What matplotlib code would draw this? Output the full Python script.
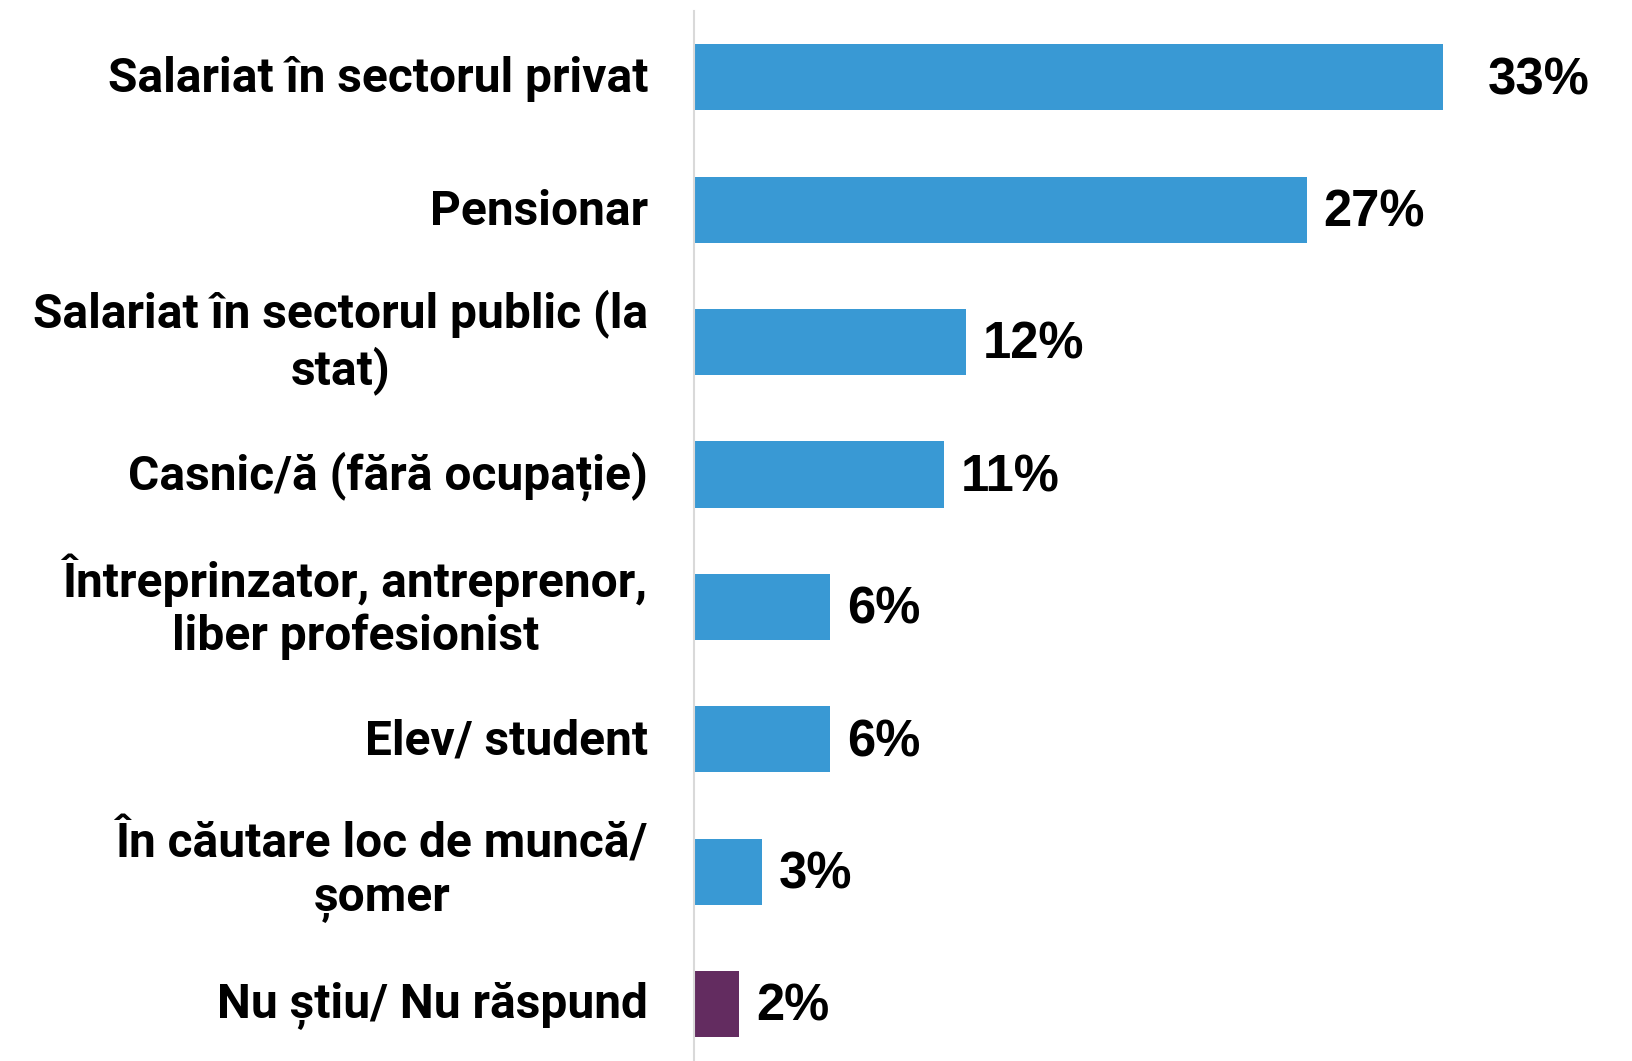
import matplotlib.pyplot as plt

categories = [
    "Salariat în sectorul privat",
    "Pensionar",
    "Salariat în sectorul public (la\nstat)",
    "Casnic/ă (fără ocupație)",
    "Întreprinzator, antreprenor,\nliber profesionist",
    "Elev/ student",
    "În căutare loc de muncă/\nșomer",
    "Nu știu/ Nu răspund",
]
values = [33, 27, 12, 11, 6, 6, 3, 2]
labels = ["33%", "27%", "12%", "11%", "6%", "6%", "3%", "2%"]

BLUE = "#3999d4"
PURPLE = "#632c60"


def main():
    fig = plt.figure(figsize=(16.33, 10.61), dpi=100)
    ax = fig.add_axes([694 / 1633, 0, 1 - 694 / 1633, 1 - 11 / 1061])

    colors = [BLUE] * (len(values) - 1) + [PURPLE]
    ypos = list(range(len(values)))
    ax.barh(ypos, values, height=0.5, color=colors)

    ax.set_xlim(0, 939 / 22.7)
    ax.set_ylim(-0.5 + 1050 / 132.4, -0.5)

    # percentage labels next to each bar
    for y, v, lab in zip(ypos, values, labels):
        pad = 32 if y == 0 else 12
        ax.annotate(lab, (v, y), xytext=(pad, -2.5), textcoords="offset points",
                    ha="left", va="center", fontsize=36.5, fontweight="bold",
                    family="Liberation Sans", color="black")

    # category names, right-aligned against the axis
    for y, cat in zip(ypos, categories):
        shift = -1.5 if "\n" not in cat else 0
        ax.annotate(cat, (0, y), xytext=(-33, shift), textcoords="offset points",
                    ha="right", va="center", multialignment="center",
                    fontsize=34.5, fontweight="bold", family="Roboto",
                    linespacing=1.2, color="black", annotation_clip=False)

    ax.set_xticks([])
    ax.set_yticks([])
    for side in ["top", "right", "bottom"]:
        ax.spines[side].set_visible(False)
    ax.spines["left"].set_color("#d9d9d9")
    ax.spines["left"].set_linewidth(1.5)

    fig.savefig("out.png", dpi=100)


if __name__ == "__main__":
    main()
